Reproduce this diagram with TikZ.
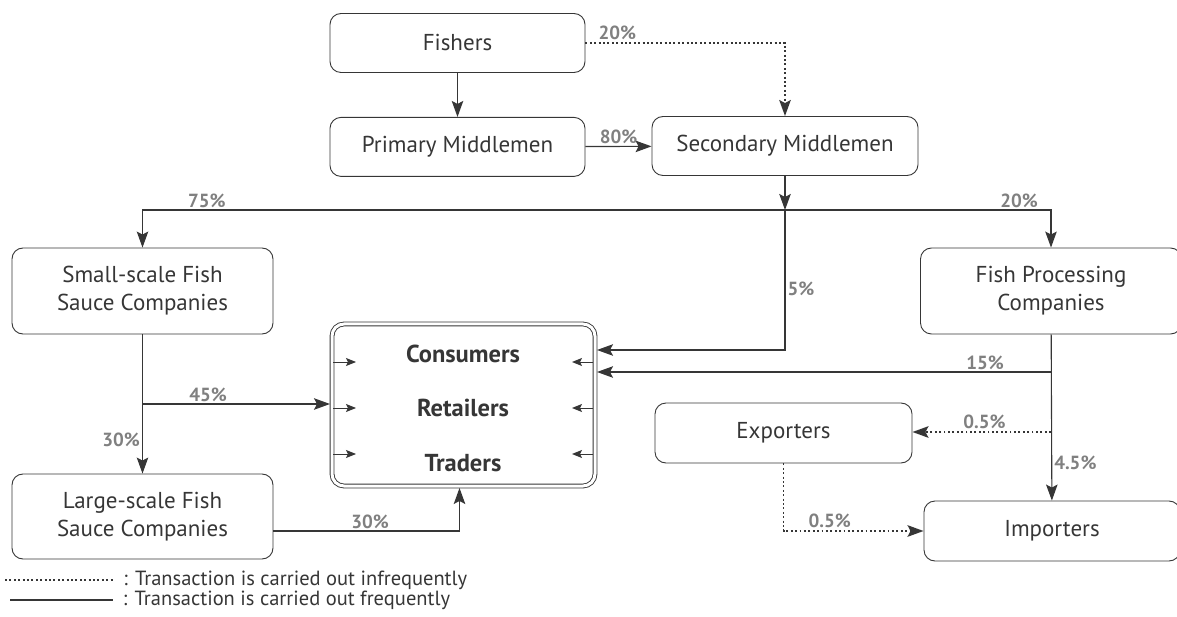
\documentclass[tikz,border=0pt]{standalone}
\usepackage{fontspec}
\setmainfont{PT Sans}
\usetikzlibrary{arrows.meta,calc,positioning}
\definecolor{ink}{HTML}{363636}
\definecolor{pctgray}{HTML}{808080}

\begin{document}
\begin{tikzpicture}[x=1pt, y=-1pt, >={Stealth[length=16pt,width=11.5pt,inset=3pt]},
    every node/.style={font=\fontsize{23}{28}\selectfont, text=ink},
    box/.style={draw=ink, line width=0.9pt, rounded corners=11pt, align=center, minimum width=255pt, minimum height=59pt, inner sep=2pt},
    pct/.style={font=\fontsize{19}{22}\selectfont\bfseries, text=pctgray, inner sep=2pt},
    link/.style={draw=ink, line width=1.1pt, ->},
    rare/.style={link, line width=1.9pt, dash pattern=on 1.9pt off 2.5pt},
    tick/.style={draw=ink, line width=1pt, -{Stealth[length=10pt,width=8pt,inset=2pt]}}]
    \useasboundingbox (0,0) rectangle (1177,617);
    % actors
    \node[box] (fishers) at (457.5,43) {Fishers};
    \node[box, below=44pt of fishers] (primary) {Primary Middlemen};
    \node[box, minimum width=266pt] (secondary) at (785,146) {Secondary Middlemen};
    \node[box, minimum width=261pt, minimum height=86pt] (smallscale) at (142.5,291) {Small-scale Fish\\Sauce Companies};
    \node[box, minimum width=261pt, minimum height=86pt] (processing) at (1051,291) {Fish Processing\\Companies};
    \node[box, minimum width=261pt, minimum height=85pt] (largescale) at (142.5,516.5) {Large-scale Fish\\Sauce Companies};
    \node[box, minimum width=257pt, minimum height=60pt] (exporters) at (783.5,433) {Exporters};
    \node[box, minimum width=256pt, minimum height=60pt] (importers) at (1052,531) {Importers};
    \node[box, double, double distance=3pt, rounded corners=12pt, minimum width=263pt, minimum height=162pt, outer sep=2pt] (market) at (463.5,405) {};
    \node[font=\fontsize{24.5}{28}\selectfont\bfseries] (consumers) at (463,354) {Consumers};
    \node[font=\fontsize{24.5}{28}\selectfont\bfseries] (retailers) at (463,408) {Retailers};
    \node[font=\fontsize{24.5}{28}\selectfont\bfseries] (traders) at (463,463) {Traders};
    \foreach \yy in {362,408,454} {
        \draw[tick] ($(market.west |- 0,\yy)+(3,0)$) -- ++(23,0);
        \draw[tick] ($(market.east |- 0,\yy)+(-4,0)$) -- ++(-21,0);
    }
    % flows
    \coordinate (split) at (secondary.south |- 0,210);
    \coordinate (tap45) at (smallscale.south |- 0,404);
    \coordinate (tap15) at (processing.south |- 0,372);
    \coordinate (tap05) at (processing.south |- 0,432);
    \draw[link] (fishers) -- (primary);
    \draw[rare] (fishers.east) -| node[pct, above, pos=0.08] {20\%} (secondary.north);
    \draw[link] (primary) -- node[pct, above] {80\%} (secondary);
    \draw[link] (secondary) -- (split);
    \draw[link] (split) -| node[pct, above, pos=0.45] {75\%} (smallscale.north);
    \draw[link] (split) -| node[pct, above, pos=0.44] {20\%} (processing.north);
    \draw[link] (split) |- node[pct, right, pos=0.28] {5\%} (market.east |- 0,350);
    \draw[link] (smallscale) -- node[pct, left, pos=0.76] {30\%} (largescale);
    \draw[link] (tap45) -- node[pct, above, pos=0.35] {45\%} (market.west |- tap45);
    \draw[link] (largescale.east |- 0,531) -| node[pct, above, pos=0.26] {30\%} ([xshift=-4pt]market.south);
    \draw[link] (processing) -- node[pct, right, pos=0.77] {4.5\%} (importers);
    \draw[link] (tap15) -- node[pct, above, pos=0.145] {15\%} (market.east |- tap15);
    \draw[rare] (tap05) -- node[pct, above, pos=0.48] {0.5\%} (exporters.east |- tap05);
    \draw[rare] (exporters.south) |- node[pct, above, pos=0.665] {0.5\%} (importers.west);
    % legend
    \draw[draw=ink, line width=1.9pt, dash pattern=on 1.9pt off 2.5pt] (5,580) -- (113,580) node[right=6pt, font=\fontsize{20.5}{24}\selectfont] (legrare) {: Transaction is carried out infrequently};
    \draw[draw=ink, line width=1.1pt] (10,600) -- (113,600) node[right=6pt, font=\fontsize{20.5}{24}\selectfont] (legoften) {: Transaction is carried out frequently};
\end{tikzpicture}
\end{document}
